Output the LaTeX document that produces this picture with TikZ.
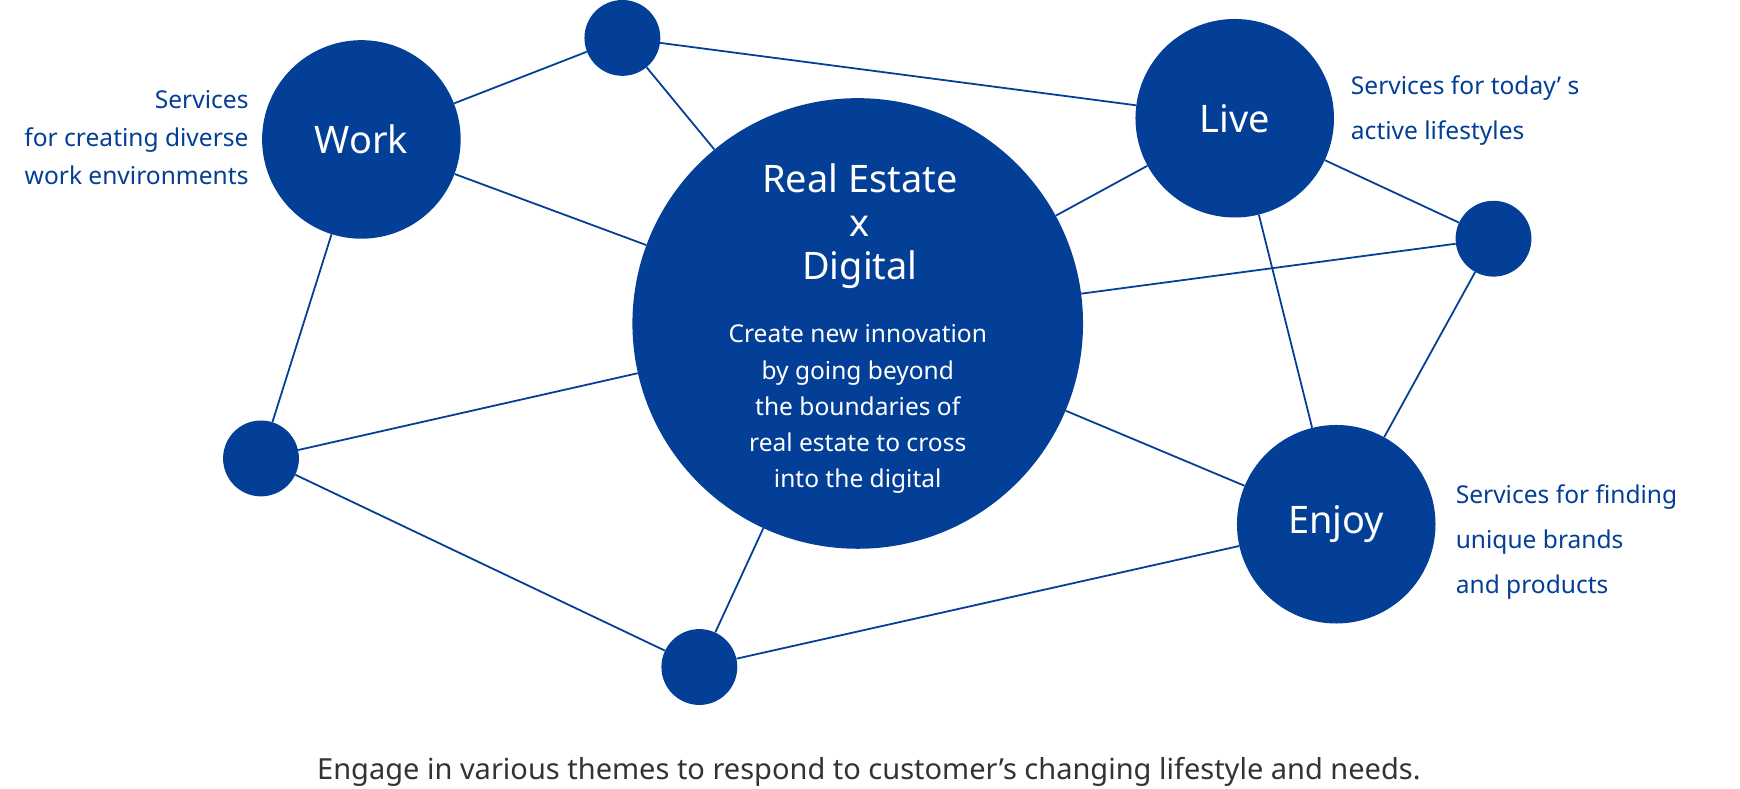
\documentclass[tikz,border=0pt]{standalone}
\usepackage{fontspec}
\setmainfont{Noto Sans}
\definecolor{nb}{HTML}{033F96}
\definecolor{cap}{HTML}{333333}
\begin{document}
\begin{tikzpicture}[x=1pt,y=-1pt,
  dot/.style={circle,fill=nb,inner sep=0pt,minimum size=68pt},
  big/.style={circle,fill=nb,inner sep=0pt,minimum size=178pt,text=white,font=\fontsize{34}{40}\selectfont\bfseries},
  lnk/.style={draw=nb,line width=1.6pt},
  side/.style={text=nb,font=\fontsize{22}{34}\selectfont,inner sep=0pt}]
\useasboundingbox (0,0) rectangle (1560,707);
\node[dot] (t) at (558,34) {};
\node[big] (w) at (324,125) {Work};
\node[big] (l) at (1107,106) {Live};
\node[circle,fill=nb,inner sep=0pt,minimum size=404pt] (c) at (769,290) {};
\node[dot] (r) at (1339,214) {};
\node[dot] (f) at (234,411) {};
\node[big] (e) at (1198,470) {Enjoy};
\node[dot] (b) at (627,598) {};
\begin{scope}[on background layer/.style={}]
\end{scope}
\foreach \a/\bb in {t/w,t/c,t/l,w/c,w/f,l/c,l/r,l/e,r/c,r/e,f/c,f/b,c/e,c/b,b/e}
  \draw[lnk] (\a) -- (\bb);
\node[text=white,align=center,font=\fontsize{34}{39}\selectfont\bfseries] (ct) at (771,203) {Real Estate\\x\\Digital};
\node[text=white,align=center,font=\fontsize{22}{32.5}\selectfont] (cs) at (769,367) {Create new innovation\\by going beyond\\the boundaries of\\real estate to cross\\into the digital};
\node[side,align=right,anchor=east] (wt) at (223,123) {Services\\for creating diverse\\work environments};
\node[side,align=left,anchor=west,font=\fontsize{22}{40}\selectfont] (lt) at (1211,99) {Services for today’ s\\active lifestyles};
\node[side,align=left,anchor=west,font=\fontsize{22}{40}\selectfont] (et) at (1305,486) {Services for finding\\unique brands\\and products};
\node[text=cap,font=\fontsize{26}{30}\selectfont,inner sep=0pt] (cp) at (779,692) {Engage in various themes to respond to customer’s changing lifestyle and needs.};
\end{tikzpicture}
\end{document}
